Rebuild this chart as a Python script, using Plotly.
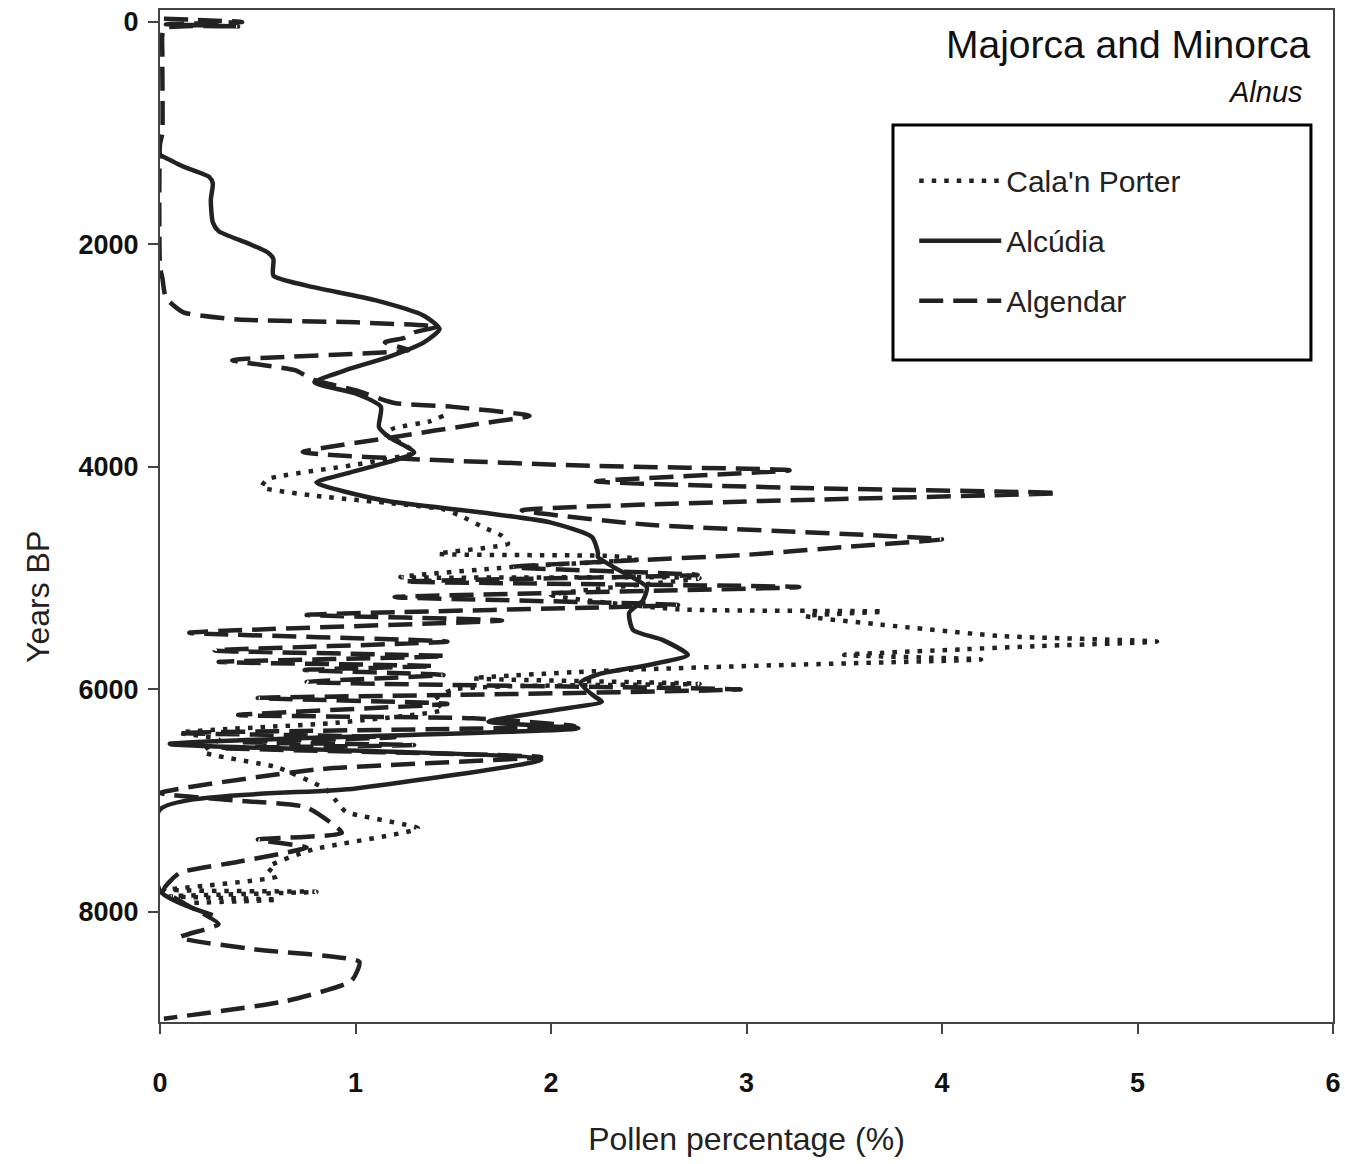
import plotly.graph_objects as go

# ---------------- data (pollen %, years BP) ----------------
alcudia_years = [1195, 1300, 1390, 1450, 1600, 1800, 1880, 1990, 2070, 2130, 2280, 2370, 2500, 2640,
                 2760, 2880, 3010, 3130, 3240, 3340, 3460, 3640, 3730, 3870, 3955, 4060, 4140, 4300,
                 4410, 4500, 4630, 4770, 4810, 4900, 5080, 5200, 5310, 5465, 5555, 5690, 5780, 5860,
                 5940, 6060, 6110, 6185, 6290, 6350, 6490, 6630, 6890, 7080, 7810, 8030]
alcudia_vals = [0.0, 0.12, 0.25, 0.27, 0.26, 0.27, 0.3, 0.45, 0.55, 0.58, 0.58, 0.75, 1.1, 1.35,
                1.43, 1.35, 1.17, 0.95, 0.79, 1.0, 1.13, 1.12, 1.17, 1.3, 1.17, 0.95, 0.8, 1.14,
                1.65, 2.0, 2.21, 2.24, 2.24, 2.32, 2.49, 2.47, 2.4, 2.42, 2.57, 2.7, 2.5, 2.25,
                2.15, 2.22, 2.26, 2.02, 1.68, 2.14, 0.05, 1.95, 1.0, 0.0, 0.0, 0.27]

algendar_years = [-30, 0, 20, 40, 60, 300, 1000, 1100, 2200, 2300, 2480, 2610, 2675, 2700, 2740, 2790,
                  2840, 2880, 2950, 3040, 3130, 3220, 3310, 3425, 3460, 3540, 3620, 3730, 3865, 3890,
                  3930, 3990, 4030, 4130, 4190, 4235, 4310, 4390, 4520, 4610, 4650, 4720, 4790, 4900,
                  4970, 5030, 5080, 5170, 5240, 5330, 5380, 5490, 5570, 5650, 5700, 5753, 5790, 5825,
                  5870, 5933, 6000, 6050, 6077, 6130, 6230, 6260, 6330, 6392, 6430, 6473, 6500, 6527,
                  6608, 6720, 6931, 7000, 7060, 7290, 7350, 7420, 7550, 7650, 7800, 7950, 8110, 8230,
                  8340, 8450, 8620, 8800, 8960]
algendar_vals = [0.02, 0.42, 0.03, 0.4, 0.02, 0.012, 0.012, 0.0, 0.0, 0.012, 0.03, 0.12, 0.4, 1.0, 1.42, 1.3,
                 1.25, 1.15, 1.27, 0.37, 0.69, 0.79, 1.0, 1.2, 1.5, 1.89, 1.6, 1.2, 0.73, 0.85,
                 1.3, 2.2, 3.22, 2.23, 3.3, 4.59, 3.0, 1.85, 2.5, 3.6, 4.0, 3.5, 3.0, 1.8,
                 2.75, 1.25, 3.27, 1.2, 2.65, 0.75, 1.75, 0.15, 1.47, 0.28, 1.46, 0.3, 1.4, 0.74,
                 1.45, 0.75, 2.97, 1.5, 0.5, 1.47, 0.4, 1.6, 2.12, 0.1, 1.2, 0.4, 1.3, 0.3,
                 1.95, 0.8, 0.0, 0.4, 0.75, 0.93, 0.5, 0.75, 0.4, 0.1, 0.02, 0.15, 0.3, 0.1,
                 0.5, 1.02, 0.98, 0.65, 0.02]

calan_years = [3540, 3590, 3650, 3700, 3800, 3870, 3980, 4110, 4180, 4260, 4330, 4380, 4450, 4540,
               4620, 4690, 4780, 4800, 4830, 4900, 4990, 5000, 5150, 5280, 5300, 5340, 5420, 5520,
               5570, 5610, 5640, 5690, 5730, 5780, 5830, 5900, 5950, 6000, 6100, 6180, 6300, 6390,
               6450, 6560, 6700, 6900, 7000, 7100, 7250, 7440, 7600, 7680, 7800, 7820, 7860, 7890,
               7920]
calan_vals = [1.45, 1.38, 1.2, 1.15, 1.25, 1.3, 1.0, 0.55, 0.52, 0.8, 1.2, 1.45, 1.55, 1.65,
              1.75, 1.78, 1.42, 2.3, 2.45, 1.8, 1.23, 2.76, 2.0, 2.65, 3.7, 3.3, 3.7, 4.3,
              5.1, 4.5, 4.1, 3.5, 4.2, 3.2, 2.3, 1.6, 2.76, 1.5, 1.4, 1.45, 0.9, 0.1,
              0.3, 0.22, 0.6, 0.85, 0.9, 0.95, 1.32, 0.78, 0.55, 0.6, 0.05, 0.8, 0.05, 0.6,
              0.15]

x_ticks = [0, 1, 2, 3, 4, 5, 6]
y_ticks = [0, 2000, 4000, 6000, 8000]

LINE = "#222222"
FONT = "Liberation Sans Narrow, Arial Narrow, Liberation Sans, Arial, sans-serif"

fig = go.Figure()
fig.add_trace(go.Scatter(x=calan_vals, y=calan_years, mode="lines", name="Cala'n Porter",
                         legendgroup="c",
                         line=dict(color=LINE, width=4.5, dash="4.5px,8px", shape="spline", smoothing=0.5)))
fig.add_trace(go.Scatter(x=alcudia_vals, y=alcudia_years, mode="lines", name="Alcúdia",
                         legendgroup="a",
                         line=dict(color=LINE, width=4.5, shape="spline", smoothing=0.6)))
fig.add_trace(go.Scatter(x=algendar_vals, y=algendar_years, mode="lines", name="Algendar",
                         legendgroup="g",
                         line=dict(color=LINE, width=4.5, dash="24px,10px", shape="spline", smoothing=0.5)))

fig.update_layout(
    width=1345, height=1164,
    margin=dict(l=160, r=12, t=10, b=142, autoexpand=False),
    paper_bgcolor="white", plot_bgcolor="white",
    showlegend=True,
    legend=dict(x=0.643, y=0.857, xanchor="left", yanchor="top",
                borderwidth=0, bgcolor="rgba(0,0,0,0)",
                font=dict(family=FONT, size=30, color="#222"),
                itemwidth=82, traceorder="grouped", tracegroupgap=18),
    font=dict(family=FONT, color="#222"),
    shapes=[dict(type="rect", xref="paper", yref="paper", x0=0.6249, x1=0.9812, y0=0.6542, y1=0.8864,
                 line=dict(color="black", width=3), fillcolor="rgba(0,0,0,0)", layer="above")],
)
fig.update_xaxes(range=[0, 6], tickvals=x_ticks, ticktext=[f"<b>{v}</b>" for v in x_ticks],
                 ticks="outside", ticklen=10, tickwidth=2, tickcolor="#444",
                 showline=True, linecolor="#444", linewidth=2, mirror=True,
                 showgrid=False, zeroline=False, automargin=False, ticklabelstandoff=26,
                 tickfont=dict(family=FONT, size=27, color="#111"),
                 title=dict(text="Pollen percentage (%)", font=dict(family=FONT, size=32, color="#222"),
                            standoff=30))
fig.update_yaxes(range=[8990, -108], tickvals=y_ticks, ticktext=[f"<b>{v}</b>" for v in y_ticks],
                 ticks="outside", ticklen=10, tickwidth=2, tickcolor="#444",
                 showline=True, linecolor="#444", linewidth=2, mirror=True,
                 showgrid=False, zeroline=False, automargin=False, ticklabelstandoff=4,
                 tickfont=dict(family=FONT, size=27, color="#111"))

fig.add_annotation(text="Majorca and Minorca", xref="paper", yref="paper", x=0.982, y=0.966,
                   xanchor="right", yanchor="middle", showarrow=False,
                   font=dict(family=FONT, size=39, color="#111"))
fig.add_annotation(text="<i>Alnus</i>", xref="paper", yref="paper", x=0.976, y=0.919,
                   xanchor="right", yanchor="middle", showarrow=False,
                   font=dict(family=FONT, size=29, color="#111"))
fig.add_annotation(text="Years BP", xref="paper", yref="paper", x=-0.104, y=0.42,
                   xanchor="center", yanchor="middle", textangle=-90, showarrow=False,
                   font=dict(family=FONT, size=32, color="#222"))

fig.write_html("out.html", config={"displayModeBar": False},
               post_script="document.body.style.margin='0';document.body.style.overflow='hidden';")
